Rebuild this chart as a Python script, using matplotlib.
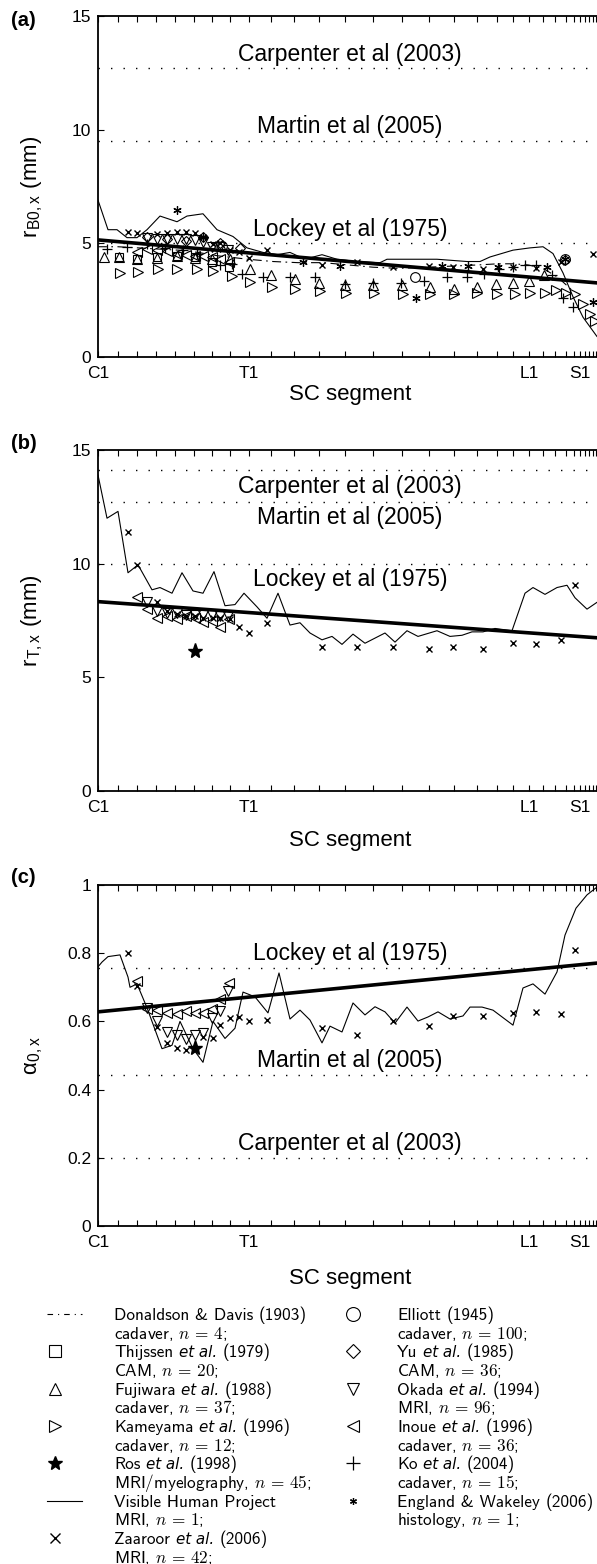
import numpy as np
import matplotlib.pyplot as plt

plt.rcParams['font.family'] = ['Liberation Sans', 'DejaVu Sans']
plt.rcParams['mathtext.fontset'] = 'cm'

# segment boundaries along the cord, mm from C1
seg_pos = [0, 20, 39, 58, 77, 96, 114, 132, 151, 173, 196, 221, 247, 275, 304,
           331, 356, 379, 399, 415, 431, 445, 457, 468, 476, 482, 487, 491,
           495, 498, 501, 504]
seg_names = {0: 'C1', 8: 'T1', 20: 'L1', 25: 'S1'}

# ---- (a) r_B0,x ----
fit_a = [5.15, 3.26]          # value at C1, value at 499 mm
vhp_a_x = [0, 10, 19, 29, 39, 49, 62, 79, 89, 105, 119, 135, 149, 165, 179, 192,
           202, 211, 224, 239, 259, 282, 289, 315, 339, 369, 382, 392, 415, 432,
           445, 455, 465, 475, 485, 499, 507]
vhp_a = [6.9, 5.6, 5.6, 5.25, 5.25, 5.6, 6.2, 5.95, 6.2, 6.3, 5.6, 5.3, 4.8, 4.6,
         4.5, 4.6, 4.4, 4.35, 4.5, 4.3, 4.2, 4.15, 4.3, 4.3, 4.3, 4.2, 4.2, 4.4,
         4.7, 4.8, 4.85, 4.55, 3.7, 2.65, 1.75, 0.9, 0.6]
dd_a_x = [0, 20, 40, 60, 80, 100, 120, 150, 175, 200, 225, 250, 275, 300, 330,
          355, 380, 400, 415, 430, 445, 460, 475]
dd_a = [4.85, 4.85, 4.8, 4.75, 4.7, 4.6, 4.45, 4.3, 4.2, 4.15, 4.15, 4.05, 3.95,
        3.9, 3.95, 4.0, 4.05, 4.1, 4.1, 4.05, 3.9, 3.5, 2.9]
zaa_a_x = [30, 39, 59, 69, 79, 88, 97, 105, 115, 122, 132, 141, 151, 169, 224,
           259, 295, 331, 355, 385, 415, 438, 463, 495]
zaa_a = [5.5, 5.45, 5.4, 5.45, 5.5, 5.5, 5.45, 5.3, 4.95, 5.0, 4.7, 4.6, 4.35,
         4.7, 4.05, 4.2, 3.95, 4.0, 3.95, 3.85, 3.95, 3.9, 4.2, 4.55]
kam_a_x = [22, 40, 60, 79, 99, 115, 134, 152, 174, 197, 222, 248, 276, 305, 332,
           356, 379, 399, 417, 432, 447, 458, 468, 477, 485, 492, 497]
kam_a = [3.7, 3.75, 3.85, 3.85, 3.85, 3.8, 3.55, 3.3, 3.1, 3.0, 2.9, 2.8, 2.8,
         2.75, 2.75, 2.75, 2.8, 2.75, 2.75, 2.8, 2.8, 2.95, 2.8, 2.75, 2.35, 1.9,
         1.6]
fuj_a_x = [6, 21, 39, 59, 79, 97, 114, 132, 152, 173, 197, 221, 247, 275, 304,
           332, 356, 379, 398, 415, 431, 446]
fuj_a = [4.4, 4.4, 4.3, 4.35, 4.45, 4.35, 4.3, 4.3, 3.85, 3.6, 3.45, 3.25, 3.15,
         3.15, 3.15, 3.1, 3.0, 3.1, 3.2, 3.25, 3.35, 3.6]
thi_a_x = [21, 39, 59, 79, 97, 114, 131]
thi_a = [4.4, 4.3, 4.4, 4.45, 4.4, 4.2, 3.95]
oka_a_x = [49, 59, 69, 79, 88, 97, 105, 114, 122, 130]
oka_a = [5.25, 5.2, 5.2, 5.2, 5.2, 5.15, 5.05, 4.85, 4.85, 4.7]
ino_a_x = [39, 49, 59, 69, 79, 88, 97, 105, 114, 122, 131]
ino_a = [4.6, 4.75, 4.7, 4.65, 4.55, 4.5, 4.45, 4.45, 4.4, 4.3, 4.2]
yu_a_x = [49, 69, 88, 105, 122, 142, 467]
yu_a = [5.3, 5.2, 5.1, 5.3, 5.0, 4.8, 4.25]
ell_a_x = [124, 317, 467]
ell_a = [4.9, 3.5, 4.3]
ko_a_x = [9, 29, 49, 67, 85, 99, 122, 134, 144, 165, 192, 217, 247, 275, 303,
          326, 349, 369, 386, 401, 415, 427, 438, 454, 465, 475]
ko_a = [4.75, 4.85, 4.95, 4.8, 4.7, 4.55, 4.05, 4.1, 3.65, 3.5, 3.5, 3.5, 3.2,
        3.25, 3.25, 3.35, 3.5, 3.5, 3.65, 3.85, 3.95, 4.05, 4.05, 3.6, 2.6, 2.2]
eng_a_x = [79, 105, 205, 242, 318, 344, 370, 400, 449, 467, 495]
eng_a = [6.45, 5.3, 4.2, 4.0, 2.6, 4.0, 4.0, 3.95, 3.95, 4.3, 2.4]

# ---- (b) r_T,x ----
fit_b = [8.33, 6.74]
vhp_b_x = [0, 9, 20, 30, 40, 54, 62, 74, 84, 95, 105, 116, 127, 137, 146, 159,
           169, 180, 192, 202, 212, 224, 234, 244, 255, 267, 287, 297, 309, 320,
           339, 352, 364, 374, 385, 397, 414, 427, 435, 447, 459, 469, 477, 489,
           499, 505]
vhp_b = [13.9, 12.0, 12.3, 9.6, 9.95, 8.85, 8.95, 8.7, 9.6, 8.8, 8.7, 9.65, 8.15,
         8.2, 8.7, 8.1, 7.6, 8.7, 7.3, 7.4, 6.95, 6.65, 6.8, 6.45, 6.9, 6.5, 6.95,
         6.55, 7.05, 6.8, 7.05, 6.8, 6.85, 7.0, 7.0, 7.15, 7.05, 8.7, 8.95, 8.65,
         8.95, 9.05, 8.5, 8.0, 8.3, 8.4]
zaa_x = [30, 39, 59, 69, 79, 88, 97, 105, 115, 122, 132, 141, 151, 169, 224, 259,
         295, 331, 355, 385, 415, 438, 463, 477]
zaa_b = [11.4, 9.95, 8.3, 7.9, 7.8, 7.7, 7.7, 7.6, 7.6, 7.6, 7.55, 7.2, 6.95, 7.4,
         6.35, 6.35, 6.35, 6.25, 6.35, 6.25, 6.5, 6.45, 6.65, 9.05]
oka_x = [49, 59, 69, 79, 88, 97, 105, 114, 122, 130]
oka_b = [8.3, 7.9, 7.85, 7.85, 7.75, 7.75, 7.75, 7.75, 7.7, 7.7]
ino_x = [39, 49, 59, 69, 79, 88, 97, 105, 114, 122, 131]
ino_b = [8.55, 8.0, 7.6, 7.7, 7.55, 7.7, 7.6, 7.45, 7.5, 7.2, 7.55]
ros_x = [97]
ros_b = [6.15]

# ---- (c) alpha_0,x ----
fit_c = [0.628, 0.771]
vhp_c_x = [0, 4, 10, 22, 30, 32, 39, 49, 64, 74, 82, 95, 105, 115, 127, 137, 145,
           157, 170, 181, 192, 202, 212, 224, 232, 244, 255, 267, 277, 287, 297,
           309, 320, 330, 340, 352, 365, 372, 384, 395, 415, 425, 435, 447, 459,
           467, 478, 489, 499, 505]
vhp_c = [0.76, 0.774, 0.79, 0.795, 0.73, 0.70, 0.71, 0.64, 0.52, 0.53, 0.60, 0.52,
         0.48, 0.60, 0.55, 0.58, 0.686, 0.672, 0.625, 0.742, 0.607, 0.633, 0.604,
         0.537, 0.586, 0.569, 0.654, 0.619, 0.643, 0.628, 0.595, 0.642, 0.601,
         0.613, 0.628, 0.607, 0.616, 0.642, 0.642, 0.633, 0.589, 0.698, 0.710,
         0.680, 0.745, 0.853, 0.932, 0.971, 0.994, 1.0]
zaa_c = [0.80, 0.704, 0.584, 0.537, 0.522, 0.516, 0.519, 0.554, 0.551, 0.589,
         0.61, 0.613, 0.601, 0.604, 0.58, 0.56, 0.601, 0.586, 0.616, 0.616, 0.625,
         0.628, 0.622, 0.809]
oka_c = [0.64, 0.60, 0.569, 0.56, 0.548, 0.56, 0.566, 0.61, 0.63, 0.689]
ino_c = [0.718, 0.636, 0.633, 0.625, 0.622, 0.63, 0.625, 0.625, 0.636, 0.666, 0.713]
ros_c = [0.522]

ref_a = [('Carpenter et al (2003)', 12.7), ('Martin et al (2005)', 9.5),
         ('Lockey et al (1975)', 5.0)]
ref_b = [('Carpenter et al (2003)', 14.1), ('Martin et al (2005)', 12.7),
         ('Lockey et al (1975)', 10.0)]
ref_c = [('Lockey et al (1975)', 0.757), ('Martin et al (2005)', 0.443),
         ('Carpenter et al (2003)', 0.2)]

W, H = 597, 1564
fig = plt.figure(figsize=(W / 100, H / 100), dpi=100)

# styles
open_m = dict(ls='none', mfc='none', mec='k', mew=0.8)
sty = {
    'thi': dict(marker='s', ms=6, **open_m),
    'fuj': dict(marker='^', ms=7, **open_m),
    'kam': dict(marker='>', ms=7, **open_m),
    'oka': dict(marker='v', ms=7, **open_m),
    'ino': dict(marker='<', ms=7, **open_m),
    'yu': dict(marker='D', ms=5, **open_m),
    'ell': dict(marker='o', ms=7, **open_m),
    'ko': dict(marker='+', ms=7, ls='none', color='k', mew=0.9),
    'eng': dict(marker=(6, 2, 0), ms=6, ls='none', color='k', mew=0.9),
    'zaa': dict(marker='x', ms=4.8, ls='none', color='k', mew=1.0),
    'ros': dict(marker='*', ms=11, ls='none', color='k'),
}

x_right = 505
left = 98 / W
width = x_right / W


def make_axes(top_px, bot_px):
    return fig.add_axes([left, 1 - bot_px / H, width, (bot_px - top_px) / H])


def setup(ax, ylim, yticks, yticklabels, ylabel, tag, tag_px, xpad):
    ax.set_xlim(0, x_right)
    ax.set_ylim(*ylim)
    ax.set_xticks(seg_pos)
    ax.set_xticklabels([seg_names.get(i, '') for i in range(len(seg_pos))])
    ax.set_yticks(yticks)
    ax.set_yticklabels(yticklabels)
    ax.tick_params(direction='in', length=4, width=0.8, top=True,
                   labelsize=12.5)
    ax.tick_params(axis='x', pad=6.5)
    ax.tick_params(axis='y', pad=5)
    for s in ax.spines.values():
        s.set_linewidth(1.3)
    ax.set_xlabel('SC segment', fontsize=16, labelpad=xpad)
    ax.set_ylabel(ylabel, fontsize=16)
    ax.yaxis.set_label_coords(-0.105, 0.5)
    fig.text(11 / W, 1 - tag_px / H, tag, fontsize=14.5, fontweight='bold',
             va='top', ha='left')


def refs(ax, items, above):
    for label, v in items:
        ax.axhline(v, color='k', lw=1.0, ls=(0, (1, 8)), zorder=1)
        ax.annotate(label, (252, v), xytext=(0, 2 if above else -3),
                    textcoords='offset points', ha='center',
                    va='bottom' if above else 'top', fontsize=16.5)


def fit_line(ax, f):
    xs = np.array([0, x_right])
    ax.plot(xs, f[0] + (f[1] - f[0]) * xs / 499, color='k', lw=2.6, zorder=5)


# (a)
ax = make_axes(16, 357)
refs(ax, ref_a, True)
ax.plot(dd_a_x, dd_a, color='k', lw=0.8, ls=(0, (8, 4, 1.5, 4)))
ax.plot(vhp_a_x, vhp_a, color='k', lw=0.8)
fit_line(ax, fit_a)
ax.plot(thi_a_x, thi_a, **sty['thi'])
ax.plot(fuj_a_x, fuj_a, **sty['fuj'])
ax.plot(kam_a_x, kam_a, **sty['kam'])
ax.plot(oka_a_x, oka_a, **sty['oka'])
ax.plot(ino_a_x, ino_a, **sty['ino'])
ax.plot(yu_a_x, yu_a, **sty['yu'])
ax.plot(ell_a_x, ell_a, **sty['ell'])
ax.plot(ko_a_x, ko_a, **sty['ko'])
ax.plot(eng_a_x, eng_a, **sty['eng'])
ax.plot(zaa_a_x, zaa_a, **sty['zaa'])
setup(ax, (0, 15), [0, 5, 10, 15], ['0', '5', '10', '15'],
      r'r$_{\mathregular{B0,x}}$ (mm)', '(a)', 11, 2)

# (b)
ax = make_axes(450, 791)
refs(ax, ref_b, False)
ax.plot(vhp_b_x, vhp_b, color='k', lw=0.8)
fit_line(ax, fit_b)
ax.plot(oka_x, oka_b, **sty['oka'])
ax.plot(ino_x, ino_b, **sty['ino'])
ax.plot(zaa_x, zaa_b, **sty['zaa'])
ax.plot(ros_x, ros_b, **sty['ros'])
setup(ax, (0, 15), [0, 5, 10, 15], ['0', '5', '10', '15'],
      r'r$_{\mathregular{T,x}}$ (mm)', '(b)', 434, 11)

# (c)
ax = make_axes(885, 1226)
refs(ax, ref_c, True)
ax.plot(vhp_c_x, vhp_c, color='k', lw=0.8)
fit_line(ax, fit_c)
ax.plot(oka_x, oka_c, **sty['oka'])
ax.plot(ino_x, ino_c, **sty['ino'])
ax.plot(zaa_x, zaa_c, **sty['zaa'])
ax.plot(ros_x, ros_c, **sty['ros'])
setup(ax, (0, 1), [0, 0.2, 0.4, 0.6, 0.8, 1], ['0', '0.2', '0.4', '0.6', '0.8', '1'],
      '\u03b1$_{\\mathregular{0,x}}$', '(c)', 868, 13)

# ---- legend drawn in a pixel-space overlay ----
leg = fig.add_axes([0, 0, 1, 1], zorder=-1)
leg.set_xlim(0, W)
leg.set_ylim(H, 0)
leg.axis('off')

left_col = [
    ('dd', 'Donaldson & Davis', False, '(1903)', 'cadaver, $n\\,=\\,4$;'),
    ('thi', 'Thijssen', True, '(1979)', 'CAM, $n\\,=\\,20$;'),
    ('fuj', 'Fujiwara', True, '(1988)', 'cadaver, $n\\,=\\,37$;'),
    ('kam', 'Kameyama', True, '(1996)', 'cadaver, $n\\,=\\,12$;'),
    ('ros', 'Ros', True, '(1998)', 'MRI/myelography, $n\\,=\\,45$;'),
    ('vhp', 'Visible Human Project', False, '', 'MRI, $n\\,=\\,1$;'),
    ('zaa', 'Zaaroor', True, '(2006)', 'MRI, $n\\,=\\,42$;'),
]
right_col = [
    ('ell', 'Elliott', False, '(1945)', 'cadaver, $n\\,=\\,100$;'),
    ('yu', 'Yu', True, '(1985)', 'CAM, $n\\,=\\,36$;'),
    ('oka', 'Okada', True, '(1994)', 'MRI, $n\\,=\\,96$;'),
    ('ino', 'Inoue', True, '(1996)', 'cadaver, $n\\,=\\,36$;'),
    ('ko', 'Ko', True, '(2004)', 'cadaver, $n\\,=\\,15$;'),
    ('eng', 'England & Wakeley', False, '(2006)', 'histology, $n\\,=\\,1$;'),
]

fs_leg = 12.4
row0, pitch = 1320, 18.67
renderer = fig.canvas.get_renderer()
space = fs_leg * 0.33 * 100 / 72
leg_ms = {'thi': 8, 'fuj': 8.5, 'kam': 8, 'oka': 8.5, 'ino': 8, 'yu': 7,
          'ell': 10, 'ko': 10, 'eng': 5, 'zaa': 7, 'ros': 10}


def chain(x, y, parts):
    for txt, kw in parts:
        if not txt:
            continue
        opts = dict(fontsize=fs_leg, va='baseline', ha='left')
        opts.update(kw)
        t = leg.text(x, y, txt, **opts)
        x += t.get_window_extent(renderer).width + space


def draw_col(entries, xs, xt):
    for i, (key, author, etal, year, second) in enumerate(entries):
        y = row0 + 2 * i * pitch
        yc = y - 6
        if key == 'dd':
            leg.plot([xs - 8, xs + 27], [yc, yc], color='k', lw=0.8,
                     ls=(0, (5, 4.5, 1, 4.5)))
        elif key == 'vhp':
            leg.plot([xs - 8, xs + 27], [yc, yc], color='k', lw=0.8)
        else:
            s = dict(sty[key])
            s['ms'] = leg_ms[key]
            leg.plot([xs], [yc], **s)
        sans = dict(family='cmss10')
        parts = [(author, sans)]
        if etal:
            parts.append(('et al.', dict(family='DejaVu Sans', style='italic',
                                         fontsize=fs_leg - 1.5)))
        parts.append((year, sans))
        chain(xt, y, parts)
        leg.text(xt, y + pitch, second, fontsize=fs_leg, va='baseline',
                 ha='left', family='cmss10')


draw_col(left_col, 55, 114)
draw_col(right_col, 353, 397)

fig.savefig('out.png', dpi=100)
